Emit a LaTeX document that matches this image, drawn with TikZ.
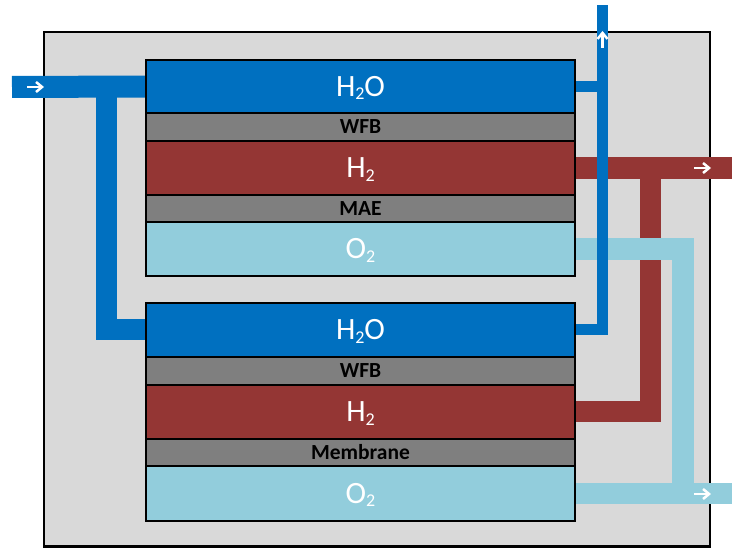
\documentclass[tikz,border=0pt]{standalone}
\usepackage{fontspec}
\setmainfont{Carlito}
\usetikzlibrary{arrows.meta,backgrounds}
\pgfdeclarelayer{pipes}
\pgfsetlayers{background,pipes,main}
\definecolor{waterblue}{HTML}{0070C0}
\definecolor{layergray}{HTML}{7F7F7F}
\definecolor{hydrored}{HTML}{943634}
\definecolor{oxyblue}{HTML}{92CDDC}
\definecolor{framegray}{HTML}{D9D9D9}
\newcommand{\subsc}[1]{\raisebox{-3.5pt}[0pt][0pt]{\fontsize{18}{18}\selectfont #1}}
\tikzset{
  layerbox/.style={draw=black, line width=2.4pt, minimum width=429pt, inner sep=0pt, outer sep=0pt, anchor=north west},
  gaslayer/.style={layerbox, text=white, font=\fontsize{31}{31}\selectfont},
  sheetlayer/.style={layerbox, fill=layergray, text=black, font=\bfseries\fontsize{21.5}{21.5}\selectfont},
  pipe/.style={line width=#1, line join=miter, line cap=butt},
  flowarrow/.style={draw=white, line width=2.5pt, -{Straight Barb[length=6pt,width=10pt]}}
}
\begin{document}
\begin{tikzpicture}[x=1pt,y=-1pt]
\useasboundingbox (0,0) rectangle (732,548);
% outer frame
\begin{scope}[on background layer]
  \draw[fill=framegray, line width=2.6pt] (44,32) rectangle (710,546.5);
\end{scope}
% top stack
\node[gaslayer, fill=waterblue, minimum height=53pt] (wA) at (146,60) {H\subsc{2}O};
\node[sheetlayer, minimum height=28pt] (fA) at (146,113) {WFB};
\node[gaslayer, fill=hydrored, minimum height=54pt] (hA) at (146,141) {H\subsc{2}};
\node[sheetlayer, minimum height=27pt] (mA) at (146,195) {MAE};
\node[gaslayer, fill=oxyblue, minimum height=54pt] (oA) at (146,222) {O\subsc{2}};
% bottom stack
\node[gaslayer, fill=waterblue, minimum height=54pt] (wB) at (146,303) {H\subsc{2}O};
\node[sheetlayer, minimum height=28pt] (fB) at (146,357) {WFB};
\node[gaslayer, fill=hydrored, minimum height=54pt] (hB) at (146,385) {H\subsc{2}};
\node[sheetlayer, minimum height=27pt] (mB) at (146,439) {Membrane};
\node[gaslayer, fill=oxyblue, minimum height=55pt] (oB) at (146,466) {O\subsc{2}};
% free ends and junctions
\coordinate (inlet) at (12,87);
\coordinate (isplit) at (106.5,87);
\coordinate (outtop) at (602.5,5);
\coordinate (h2out) at (732,168);
\coordinate (hsplit) at (650.5,168);
\coordinate (ojoin) at (682.5,493.5);
\coordinate (o2out) at (732,493.5);
% pipes
\begin{pgfonlayer}{pipes}
  \draw[pipe=22pt, draw=hydrored] (hA.east) -- (h2out);
  \draw[pipe=21pt, draw=hydrored] (hB.east) -| (hsplit);
  \draw[pipe=22pt, draw=oxyblue] (oA.east) -| (ojoin);
  \draw[pipe=21pt, draw=oxyblue] (oB.east) -- (o2out);
  \draw[pipe=22pt, draw=waterblue] (inlet) -- (wA.west);
  \draw[pipe=21pt, draw=waterblue] (isplit) |- (wB.west);
  \draw[pipe=11pt, draw=waterblue] (wA.east) -- (wA.east -| outtop);
  \draw[pipe=11pt, draw=waterblue] (wB.east) -| (outtop);
\end{pgfonlayer}
% flow arrows
\draw[flowarrow] (27,87) -- (44,87);
\draw[flowarrow] (602.5,48) -- (602.5,31);
\draw[flowarrow] (694,168) -- (711,168);
\draw[flowarrow] (694,494) -- (711,494);
\end{tikzpicture}
\end{document}
